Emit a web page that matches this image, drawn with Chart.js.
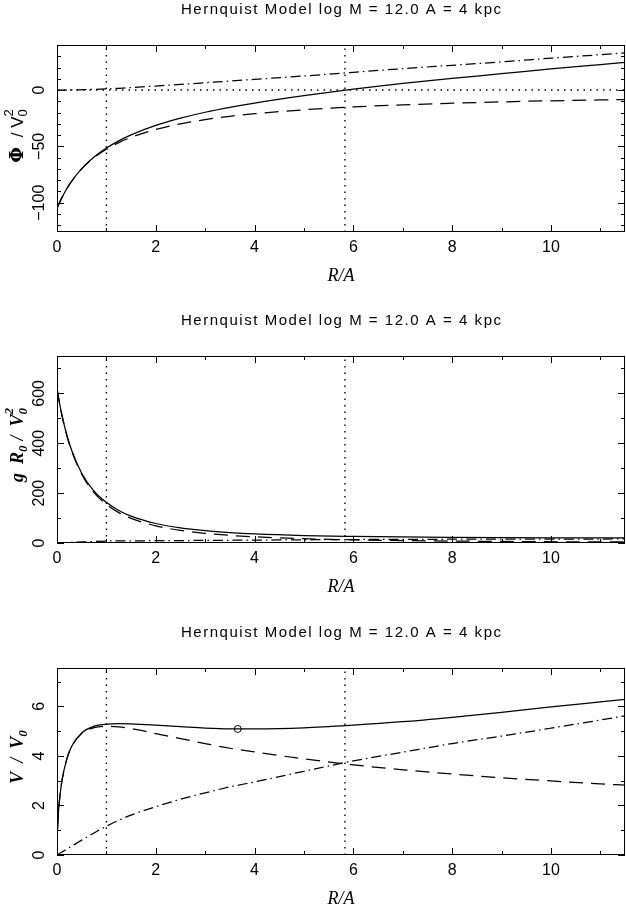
<!DOCTYPE html>
<html>
<head>
<meta charset="utf-8">
<script src="https://cdn.jsdelivr.net/npm/chart.js@4.4.1/dist/chart.umd.min.js"></script>
<style>
  html, body { margin: 0; padding: 0; background: #fff; }
  #wrap { position: relative; width: 626px; height: 914px; overflow: hidden; background: #fff; }
  canvas { position: absolute; left: 0; }
</style>
</head>
<body>
<div id="wrap">
  <canvas id="cPhi" width="626" height="311" style="top:0px"></canvas>
  <canvas id="cG" width="626" height="312" style="top:311px"></canvas>
  <canvas id="cV" width="626" height="291" style="top:623px"></canvas>
</div>
<script>
// ---- model curves, radius in units of the scale length A ----
const titleText = 'Hernquist Model log M = 12.0 A = 4 kpc';
const xAxisLabel = 'R/A';

const radius = [0, 0.05, 0.1, 0.2, 0.3, 0.5, 0.75, 1, 1.25, 1.5, 2, 2.5, 3, 3.5, 4, 5, 6, 7, 8, 9, 10, 11, 11.5];

// potential  Phi / V0^2
const phiTotal     = [-105, -100, -95.5, -87.4, -80.7, -69.7, -59.4, -51.5, -45.1, -39.8, -31.4, -25.0, -19.7, -15.3, -11.5, -5.0, 0.8, 5.9, 10.3, 14.5, 18.8, 22.6, 24.6];
const phiHernquist = [-105, -100, -95.5, -87.5, -80.8, -70, -60, -52.5, -46.7, -42, -35, -30, -26.2, -23.3, -21, -17.5, -15, -13.1, -11.7, -10.5, -9.5, -8.75, -8.4];
const phiHalo      = [0, 0, 0.01, 0.05, 0.1, 0.3, 0.6, 1.0, 1.6, 2.2, 3.6, 5.0, 6.5, 8.0, 9.5, 12.5, 15.8, 19.0, 22.0, 25.0, 28.3, 31.4, 33.0];

// acceleration  g R0 / V0^2
const gTotal     = [620, 562, 513, 432, 370, 280, 208, 163, 130.5, 107.8, 78.2, 60.4, 49.2, 41.6, 36.4, 30, 26.6, 24.3, 22.8, 21.7, 20.9, 20.3, 20.1];
const gHernquist = [620, 562, 512, 430, 367, 276, 202, 155, 122, 99, 69, 50.6, 38.8, 30.6, 24.8, 17.2, 12.7, 9.7, 7.7, 6.2, 5.1, 4.3, 4.0];
const gHalo      = [0, 0.4, 0.8, 1.7, 2.5, 4.1, 6.2, 8.0, 8.5, 8.8, 9.2, 9.8, 10.4, 11.0, 11.6, 12.8, 13.9, 14.6, 15.1, 15.5, 15.8, 16.0, 16.1];

// circular velocity  V / V0
const radiusV    = [0.01, 0.03, 0.05, 0.1, 0.2, 0.3, 0.5, 0.75, 1, 1.25, 1.5, 2, 2.5, 3, 3.5, 4, 5, 6, 7, 8, 9, 10, 11, 11.5];
const vTotal     = [1.03, 1.76, 2.21, 2.99, 3.89, 4.4, 4.93, 5.2, 5.28, 5.3, 5.29, 5.24, 5.18, 5.12, 5.09, 5.09, 5.13, 5.24, 5.38, 5.56, 5.76, 5.98, 6.18, 6.28];
const vHernquist = [1.03, 1.76, 2.21, 2.99, 3.88, 4.39, 4.9, 5.14, 5.2, 5.17, 5.1, 4.9, 4.7, 4.5, 4.31, 4.16, 3.88, 3.64, 3.44, 3.27, 3.12, 2.99, 2.87, 2.82];
const vHalo      = [0, 0.06, 0.12, 0.24, 0.36, 0.6, 0.89, 1.16, 1.4, 1.61, 1.95, 2.25, 2.51, 2.75, 2.95, 3.38, 3.8, 4.15, 4.5, 4.8, 5.12, 5.45, 5.62];

// marked point on the rotation curve
const markR = [3.66];
const markV = [5.09];

// reference radii (R = A and the potential zero crossing)
const refRadii = [1, 5.83];
const zeroLineR = [0, 11.5];

// axis ranges and ticks
const xRange = [0, 11.5];
const xMajorTicks = [0, 2, 4, 6, 8, 10];
const xMinorTicks = [1, 3, 5, 7, 9, 11];
const phiRange = [-126, 40];
const phiMajorTicks = [-100, -50, 0];
const phiMinorTicks = [-120, -110, -90, -80, -70, -60, -40, -30, -20, -10, 10, 20, 30];
const gRange = [0, 750];
const gMajorTicks = [0, 200, 400, 600];
const gMinorTicks = [100, 300, 500, 700];
const vRange = [0, 7.55];
const vMajorTicks = [0, 2, 4, 6];
const vMinorTicks = [1, 3, 5, 7];

// ---- drawing helpers ----
const SANS = '"Liberation Sans", Arial, sans-serif';
const SERIF = '"Liberation Serif", "Times New Roman", serif';
const DASH = [14, 8];
const DASHDOT = [10, 4, 1.5, 4];
const DOT = [1.5, 5];

function pts(xs, ys) { return xs.map((x, i) => ({ x: x, y: ys[i] })); }

function curve(xs, ys, dash) {
  return {
    data: pts(xs, ys), showLine: true, borderColor: '#000', borderWidth: 1.25,
    borderDash: dash || [], pointRadius: 0, cubicInterpolationMode: 'monotone', fill: false
  };
}
function straight(xs, ys, dash) {
  return {
    data: pts(xs, ys), showLine: true, borderColor: '#000', borderWidth: 1.4,
    borderDash: dash, pointRadius: 0, tension: 0, fill: false
  };
}

function fmt(v) { return v < 0 ? '\u2212' + Math.abs(v) : String(v); }

// rich text drawn rotated (reading upwards), segments may carry sub/superscripts
function drawRotatedRich(ctx, cx, cy, segs) {
  ctx.save();
  ctx.translate(cx, cy);
  ctx.rotate(-Math.PI / 2);
  ctx.textBaseline = 'alphabetic';
  ctx.textAlign = 'left';
  let total = 0;
  const widths = segs.map(s => {
    ctx.font = s.font;
    let w;
    if (s.text !== undefined) w = ctx.measureText(s.text).width;
    else w = Math.max(s.sub ? ctx.measureText(s.sub).width : 0, s.sup ? ctx.measureText(s.sup).width : 0);
    w += (s.after || 0);
    total += w;
    return w;
  });
  let x = -total / 2;
  const base = 6;
  segs.forEach((s, i) => {
    ctx.font = s.font;
    if (s.text !== undefined) ctx.fillText(s.text, x, base + (s.dy || 0));
    if (s.sub) ctx.fillText(s.sub, x, base + 4);
    if (s.sup) ctx.fillText(s.sup, x, base - 10);
    x += widths[i];
  });
  ctx.restore();
}

function drawSpacedText(ctx, text, cx, cy, width) {
  ctx.textBaseline = 'middle';
  ctx.textAlign = 'left';
  const chars = [...text];
  const ws = chars.map(c => ctx.measureText(c).width);
  const natural = ws.reduce((a, b) => a + b, 0);
  const gap = (width - natural) / (chars.length - 1);
  let x = cx - width / 2;
  chars.forEach((c, i) => { ctx.fillText(c, x, cy); x += ws[i] + gap; });
}

function framePlugin(spec) {
  return {
    id: 'frame',
    afterDatasetsDraw(chart) {
      const { ctx, chartArea: a, scales } = chart;
      const xs = scales.x, ys = scales.y;
      ctx.save();
      ctx.strokeStyle = '#000';
      ctx.lineWidth = 1;
      ctx.setLineDash([]);
      ctx.strokeRect(a.left + 0.5, a.top + 0.5, a.right - a.left - 1, a.bottom - a.top - 1);
      ctx.beginPath();
      const xt = (v, len) => {
        const p = Math.round(xs.getPixelForValue(v)) + 0.5;
        ctx.moveTo(p, a.bottom); ctx.lineTo(p, a.bottom - len);
        ctx.moveTo(p, a.top); ctx.lineTo(p, a.top + len);
      };
      const yt = (v, len) => {
        const p = Math.round(ys.getPixelForValue(v)) + 0.5;
        ctx.moveTo(a.left, p); ctx.lineTo(a.left + len, p);
        ctx.moveTo(a.right, p); ctx.lineTo(a.right - len, p);
      };
      xMajorTicks.forEach(v => xt(v, 7));
      xMinorTicks.forEach(v => xt(v, 4));
      spec.yMajor.forEach(v => yt(v, 7));
      spec.yMinor.forEach(v => yt(v, 4));
      ctx.stroke();
      ctx.restore();
    },
    afterDraw(chart) {
      const { ctx, chartArea: a, scales } = chart;
      const ys = scales.y;
      const midX = (a.left + a.right) / 2;
      ctx.save();
      ctx.fillStyle = '#000';
      // title
      ctx.font = '15px ' + SANS;
      drawSpacedText(ctx, titleText, midX, 10, 320);
      // x axis label
      ctx.font = 'italic 18px ' + SERIF;
      ctx.textAlign = 'center';
      ctx.textBaseline = 'middle';
      ctx.fillText(xAxisLabel, midX, 276);
      // y tick labels, rotated
      ctx.font = '16px ' + SANS;
      spec.yMajor.forEach(v => {
        const p = ys.getPixelForValue(v);
        ctx.save();
        ctx.translate(40, p);
        ctx.rotate(-Math.PI / 2);
        ctx.textAlign = 'center';
        ctx.textBaseline = 'middle';
        ctx.fillText(fmt(v), 0, 0);
        ctx.restore();
      });
      // y axis title
      drawRotatedRich(ctx, 17, spec.yTitleCenter, spec.yTitle);
      ctx.restore();
    }
  };
}

function makePanel(canvasId, spec) {
  const canvas = document.getElementById(canvasId);
  const H = canvas.height;
  return new Chart(canvas, {
    type: 'scatter',
    data: { datasets: spec.datasets },
    options: {
      responsive: false,
      animation: false,
      devicePixelRatio: 1,
      layout: { autoPadding: false, padding: { left: 57, right: 1, top: 45, bottom: 0 } },
      scales: {
        x: {
          type: 'linear', position: 'bottom', min: xRange[0], max: xRange[1],
          grid: { display: false, drawTicks: false },
          border: { display: false },
          afterBuildTicks: s => { s.ticks = xMajorTicks.map(v => ({ value: v })); },
          ticks: {
            color: '#000', padding: 6, maxRotation: 0, autoSkip: false,
            font: { family: 'Liberation Sans', size: 16 },
            callback: v => fmt(v)
          },
          afterFit: s => { s.height = H - 232; s.paddingLeft = 0; s.paddingRight = 0; }
        },
        y: {
          type: 'linear', position: 'left', min: spec.yRange[0], max: spec.yRange[1],
          grid: { display: false, drawTicks: false },
          border: { display: false },
          ticks: { display: false },
          afterFit: s => { s.width = 0; s.paddingTop = 0; s.paddingBottom = 0; }
        }
      },
      plugins: { legend: { display: false }, tooltip: { enabled: false }, title: { display: false } }
    },
    plugins: [framePlugin(spec)]
  });
}

function refLines(range) {
  return refRadii.map(r => straight([r, r], [range[0], range[1]], DOT));
}

// ---- potential ----
makePanel('cPhi', {
  yRange: phiRange, yMajor: phiMajorTicks, yMinor: phiMinorTicks, yTitleCenter: 136,
  yTitle: [
    { text: '\u03A6', font: 'bold 18px "DejaVu Serif", serif', after: 10 },
    { text: '/ V', font: '17px ' + SANS },
    { sub: '0', sup: '2', font: '13px ' + SANS }
  ],
  datasets: [
    straight(zeroLineR, [0, 0], DOT),
    ...refLines(phiRange),
    curve(radius, phiHalo, DASHDOT),
    curve(radius, phiHernquist, DASH),
    curve(radius, phiTotal)
  ]
});

// ---- acceleration ----
makePanel('cG', {
  yRange: gRange, yMajor: gMajorTicks, yMinor: gMinorTicks, yTitleCenter: 134,
  yTitle: [
    { text: 'g  R', font: 'italic bold 18px ' + SERIF },
    { sub: '0', font: 'italic bold 13px ' + SERIF, after: 5 },
    { text: '/  V', font: 'italic bold 18px ' + SERIF },
    { sub: '0', sup: '2', font: 'italic bold 13px ' + SERIF }
  ],
  datasets: [
    straight(zeroLineR, [0, 0], DOT),
    ...refLines(gRange),
    curve(radius, gHalo, DASHDOT),
    curve(radius, gHernquist, DASH),
    curve(radius, gTotal)
  ]
});

// ---- rotation curve ----
makePanel('cV', {
  yRange: vRange, yMajor: vMajorTicks, yMinor: vMinorTicks, yTitleCenter: 134,
  yTitle: [
    { text: 'V  /  V', font: 'italic bold 18px ' + SERIF },
    { sub: '0', font: 'italic bold 13px ' + SERIF }
  ],
  datasets: [
    straight(zeroLineR, [0, 0], DOT),
    ...refLines(vRange),
    curve(radius, vHalo, DASHDOT),
    curve(radiusV, vHernquist, DASH),
    curve(radiusV, vTotal),
    {
      data: pts(markR, markV), showLine: false, pointRadius: 3.5,
      pointBorderColor: '#000', pointBackgroundColor: 'rgba(0,0,0,0)', pointBorderWidth: 1
    }
  ]
});
</script>
</body>
</html>
